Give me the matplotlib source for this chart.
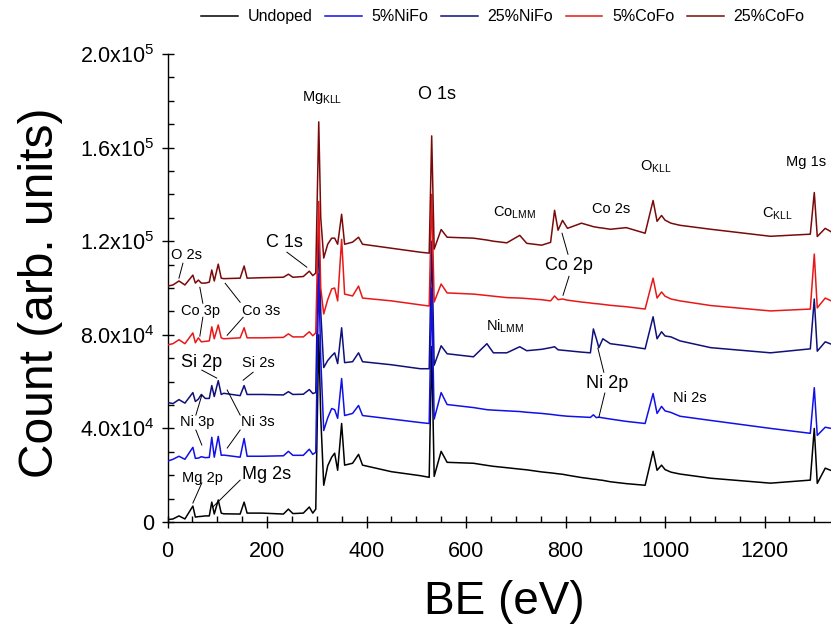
import numpy as np
import matplotlib
matplotlib.use("Agg")
import matplotlib.pyplot as plt
from matplotlib.ticker import MultipleLocator

plt.rcParams['font.family'] = ['Liberation Sans', 'DejaVu Sans']
plt.rcParams['mathtext.default'] = 'regular'

# binding energy grid (eV), shared by all spectra
be = [0, 11, 23, 35, 51, 56, 62, 68, 76, 84, 89, 94, 102, 108, 113, 146, 154, 160,
      190, 233, 243, 252, 273, 285, 292, 298, 304, 308, 314, 322, 330, 336, 342, 350,
      356, 372, 384, 392, 450, 508, 526, 531, 536, 550, 562, 615, 642, 655, 682, 708,
      722, 752, 770, 778, 785, 794, 804, 832, 850, 856, 862, 867, 875, 890, 922, 960,
      976, 984, 993, 1000, 1012, 1030, 1092, 1212, 1292, 1300, 1306, 1322, 1334]

# counts in units of 1e3
undoped = [1.0, 1.3, 2.6, 1.3, 6.8, 2.1, 2.3, 2.4, 2.6, 2.6, 8.5, 3.4, 9.4, 3.8, 3.5, 3.4, 8.5, 3.8,
           3.8, 3.4, 5.5, 3.6, 3.8, 6.4, 3.8, 5.5, 80, 45, 15.7, 24, 27.7, 29.4, 22.1, 42.1,
           24.3, 25.1, 28.9, 24.3, 21.5, 19.8, 19.1, 75, 19.5, 30.2, 25.5, 25.1, 24.2, 23.8, 23.2, 22.6,
           22.3, 21.4, 21.0, 20.8, 20.6, 20.4, 20.0, 19.0, 18.5, 18.3, 18.2, 18.0, 17.8, 17.2, 16.4, 15.7,
           30.2, 22.1, 24.3, 22.4, 21.3, 20.5, 18.7, 16.6, 17.9, 40, 16.5, 23, 22]
nife5 = [26.0, 26.8, 28.1, 26.8, 31.9, 27.2, 27.3, 27.9, 27.5, 27.6, 36.2, 27.7, 36.6, 28.5, 28.6, 27.7, 35.7, 28.1,
         28.1, 28.3, 30.2, 28.5, 28.5, 31.1, 28.9, 29.8, 106, 70, 39.1, 44.5, 48.5, 48.0, 44.3, 61.3,
         45.5, 46.4, 49.8, 45.5, 44.0, 42.5, 42.1, 100, 44, 55.3, 50.2, 48.9, 48.0, 47.8, 47.5, 47.2,
         46.9, 46.4, 46.0, 45.8, 45.6, 45.4, 45.2, 44.9, 44.7, 45.8, 44.6, 44.8, 44.5, 44.0, 43.0, 42.1,
         54.9, 46.4, 49.4, 47.5, 46.8, 45.2, 43.4, 40.0, 37.9, 57.4, 37.0, 40.5, 40.0]
nife25 = [51.1, 50.6, 52.3, 50.8, 55.3, 51.5, 52.5, 54.5, 52.8, 52.8, 58.3, 53.6, 60.4, 54.5, 55.0, 54.0, 58.3, 54.5,
          54.5, 54.3, 55.7, 54.5, 54.6, 56.6, 54.9, 55.3, 125, 90, 66.0, 69.0, 71.0, 72.3, 67.7, 83.0,
          68.1, 68.5, 72.3, 68.5, 67.2, 65.5, 65.5, 120, 67, 75.3, 71.9, 70.6, 76.2, 72.3, 72.3, 74.9,
          73.2, 73.8, 74.5, 74.9, 73.6, 73.4, 73.2, 72.6, 72.3, 82.5, 78.3, 74.5, 78.3, 76.2, 75.3, 74.0,
          87.7, 78.3, 81.3, 79.5, 79.1, 77.4, 74.5, 72.3, 74.0, 95.3, 73.0, 77.0, 76.0]
cofe5 = [75.7, 76.2, 77.9, 76.2, 80.8, 76.6, 78.7, 77.0, 77.2, 77.4, 83.4, 78.3, 84.2, 78.7, 78.3, 78.7, 83.0, 78.7,
         78.7, 78.9, 80.4, 79.1, 79.1, 81.3, 79.6, 80.8, 137, 100, 88.9, 95, 99.6, 100, 94.5, 120.8,
         97.4, 96.6, 100.8, 95.7, 94.5, 92.8, 92.3, 140, 94, 101.7, 97.9, 97.4, 96.8, 96.5, 95.9, 95.7,
         95.5, 95.0, 94.5, 96.6, 95.0, 95.3, 94.8, 94.0, 93.6, 93.4, 93.3, 93.2, 93.0, 92.6, 92.0, 91.0,
         104.2, 95.7, 98.3, 96.5, 95.3, 94.5, 92.5, 90.2, 91.0, 114.5, 91.5, 95.7, 94.5]
cofe25 = [100.8, 101.3, 103.0, 101.3, 105.5, 102.1, 103.4, 102.1, 102.1, 102.5, 107.7, 103.0, 110.2, 104.2, 104.0, 104.2, 109.4, 104.2,
          104.4, 104.6, 105.9, 104.6, 104.9, 107.2, 105.3, 106.4, 171, 130, 112.8, 118.7, 121.3, 121.3, 118.7, 131.5,
          118.7, 119.6, 121.7, 118.7, 117.0, 115.3, 114.9, 165, 116.6, 125.0, 121.7, 121.3, 120.5, 120.0, 119.3, 122.5,
          119.1, 118.3, 119.5, 133.2, 124.7, 128.9, 125.5, 127.7, 126.6, 126.2, 126.0, 125.8, 125.6, 125.1, 125.8, 123.4,
          137.4, 128.5, 131.0, 129.0, 127.7, 126.8, 125.1, 122.1, 123.0, 140.8, 122.0, 125.5, 124.0]

names = ['Undoped', '5%NiFo', '25%NiFo', '5%CoFo', '25%CoFo']
colors = ['#000000', '#1010e8', '#10107a', '#e81818', '#7a0a0a']
series = [undoped, nife5, nife25, cofe5, cofe25]
zorders = [2, 4, 3, 5, 6]

# peak labels: (text, x, y, size)
labels = [
    (r'Mg$_{KLL}$', 311, 181500, 'small'), ('O 1s', 542, 182800, 'big'),
    (r'O$_{KLL}$', 982, 152000, 'small'), ('Mg 1s', 1283, 153900, 'small'),
    (r'Co$_{LMM}$', 698, 132000, 'small'), ('Co 2s', 891, 133900, 'small'),
    (r'C$_{KLL}$', 1226, 131500, 'small'), ('C 1s', 236, 119600, 'big'),
    ('Co 2p', 807, 109700, 'big'), (r'Ni$_{LMM}$', 678, 83700, 'small'),
    ('Ni 2p', 883, 59400, 'big'), ('Ni 2s', 1050, 53000, 'small'),
    ('O 2s', 39, 114000, 'small'), ('Co 3p', 67, 90100, 'small'),
    ('Co 3s', 188, 90100, 'small'), ('Si 2p', 69, 68300, 'big'),
    ('Si 2s', 182, 67900, 'small'), ('Ni 3p', 59, 42700, 'small'),
    ('Ni 3s', 182, 42700, 'small'), ('Mg 2p', 71, 18800, 'small'),
    ('Mg 2s', 200, 20100, 'big'),
]
# leader lines: (x0, y0, x1, y1)
leaders = [
    (31, 110600, 23, 104200), (240, 115300, 280, 108900),
    (65, 100300, 71, 93500), (71, 87500, 65, 79400),
    (116, 102000, 146, 93900), (152, 87500, 120, 79800),
    (69, 64900, 99, 61500), (172, 64000, 152, 60600),
    (69, 54200, 57, 45700), (57, 39300, 69, 32900),
    (120, 56400, 146, 45700), (146, 39300, 120, 31600),
    (69, 16700, 51, 8100), (146, 17900, 91, 6400),
    (793, 123400, 805, 114400), (807, 105000, 795, 96900),
    (865, 74300, 877, 64000), (879, 55100, 867, 44800),
]

fig = plt.figure(figsize=(8.31, 6.29), dpi=100)
ax = fig.add_axes([167.5 / 831, 107 / 629, 1 - 167.5 / 831, 468 / 629])

x = np.array(be)
for name, col, s, z in zip(names, colors, series, zorders):
    ax.plot(x, np.array(s) * 1e3, color=col, lw=1.1, label=name, zorder=z)

for t, lx, ly, sz in labels:
    ax.text(lx, ly, t, ha='center', va='center', fontsize=13 if sz == 'big' else 10.5, zorder=10)
for x0, y0, x1, y1 in leaders:
    ax.plot([x0, x1], [y0, y1], color='black', lw=0.7, zorder=10)

ax.set_xlim(0, 1333.6)
ax.set_ylim(0, 2.0e5)
ax.xaxis.set_major_locator(MultipleLocator(200))
ax.xaxis.set_minor_locator(MultipleLocator(50))
ax.yaxis.set_minor_locator(MultipleLocator(1e4))
ax.set_yticks([0, 4e4, 8e4, 1.2e5, 1.6e5, 2.0e5])
ax.set_yticklabels(['0', r'4.0x10$^4$', r'8.0x10$^4$', r'1.2x10$^5$', r'1.6x10$^5$', r'2.0x10$^5$'])

for sp in ['top', 'right']:
    ax.spines[sp].set_visible(False)
for sp in ['left', 'bottom']:
    ax.spines[sp].set_linewidth(1.0)

ax.tick_params(which='major', direction='inout', length=9, width=1.0, labelsize=15.5)
ax.tick_params(which='minor', direction='in', length=4, width=1.0)
ax.tick_params(axis='y', which='major', pad=5)
ax.tick_params(axis='x', which='major', pad=9)

ax.set_xlabel('BE (eV)', fontsize=33)
ax.set_ylabel('Count (arb. units)', fontsize=34.5)
ax.xaxis.set_label_coords(0.507, -0.125)
ax.yaxis.set_label_coords(-0.158, 0.49)

handles, lbls = ax.get_legend_handles_labels()
fig.legend(handles, lbls, loc='center', bbox_to_anchor=(0.605, 0.973), ncol=5,
           frameon=False, fontsize=11.5, handlelength=2.3, handletextpad=0.6,
           columnspacing=0.8)

fig.savefig('out.png', dpi=100)
